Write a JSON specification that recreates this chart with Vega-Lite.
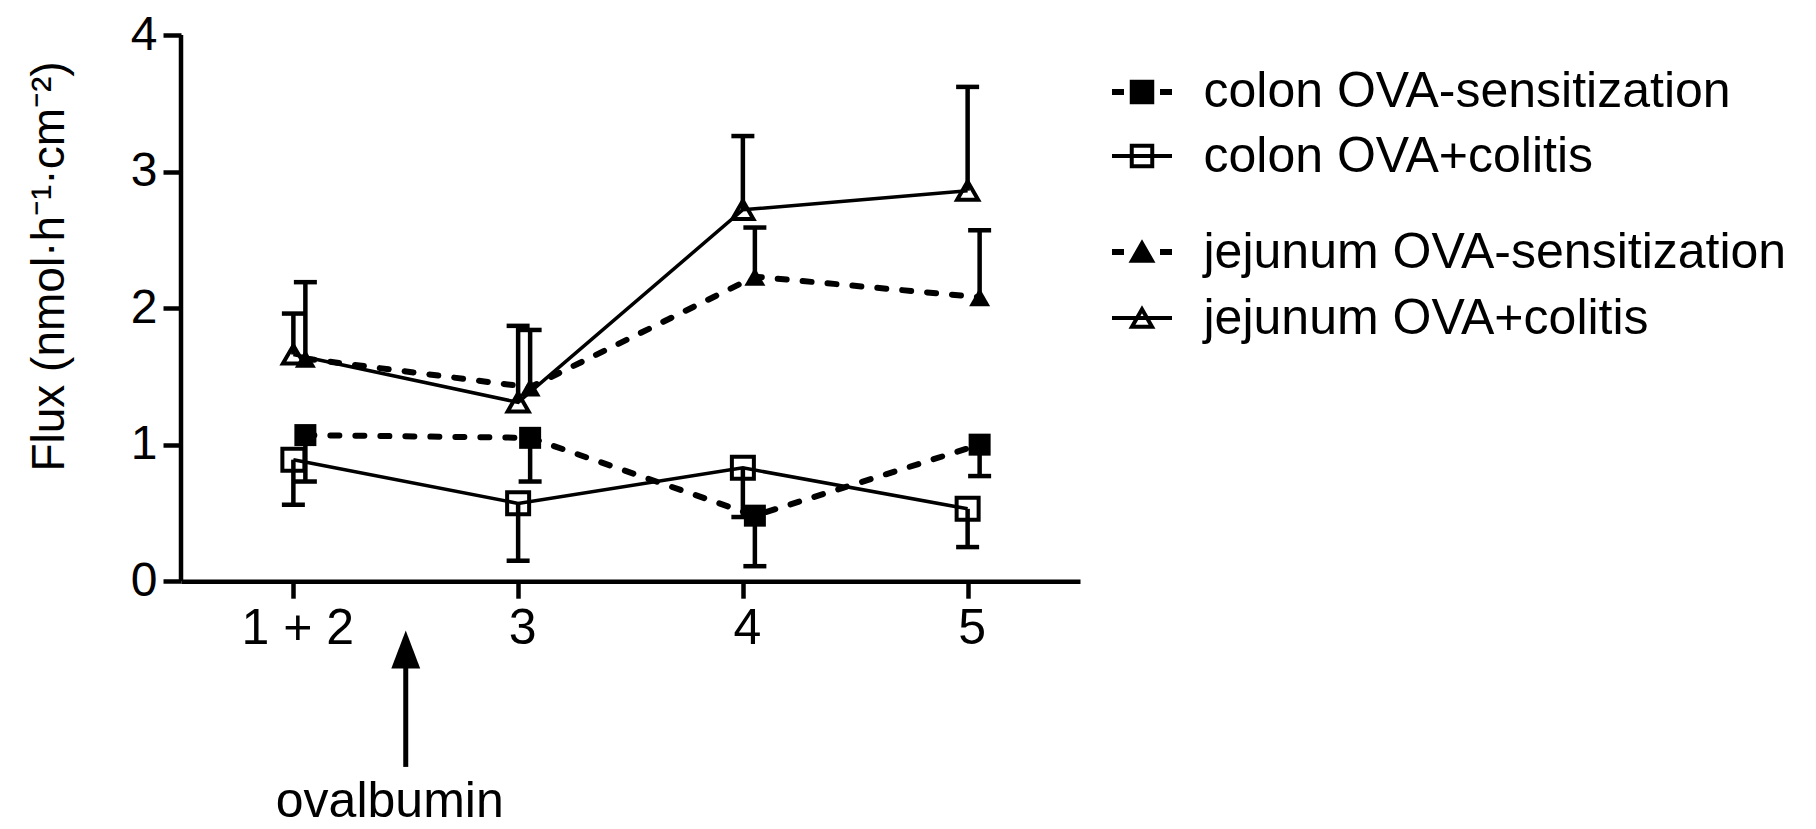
{
  "$schema": "https://vega.github.io/schema/vega-lite/v6.json",
  "padding": {"left": 26, "top": 11, "right": 5, "bottom": 0},
  "background": "white",
  "spacing": 29,
  "config": {
    "view": {"stroke": null},
    "font": "Liberation Sans",
    "axis": {
      "domainColor": "black", "tickColor": "black", "labelColor": "black", "titleColor": "black",
      "grid": false, "domainWidth": 4.5, "tickWidth": 4.5,
      "labelFont": "Liberation Sans", "titleFont": "Liberation Sans", "titleFontWeight": "normal"
    }
  },
  "datasets": {
    "flux": [
      {"period": 2, "tissue": "colon", "group": "OVA-sensitization", "mean": 1.07, "err": 0.73},
      {"period": 3, "tissue": "colon", "group": "OVA-sensitization", "mean": 1.05, "err": 0.73},
      {"period": 4, "tissue": "colon", "group": "OVA-sensitization", "mean": 0.48, "err": 0.11},
      {"period": 5, "tissue": "colon", "group": "OVA-sensitization", "mean": 1.00, "err": 0.77},
      {"period": 2, "tissue": "colon", "group": "OVA+colitis", "mean": 0.89, "err": 0.56},
      {"period": 3, "tissue": "colon", "group": "OVA+colitis", "mean": 0.57, "err": 0.15},
      {"period": 4, "tissue": "colon", "group": "OVA+colitis", "mean": 0.83, "err": 0.47},
      {"period": 5, "tissue": "colon", "group": "OVA+colitis", "mean": 0.53, "err": 0.25},
      {"period": 2, "tissue": "jejunum", "group": "OVA-sensitization", "mean": 1.63, "err": 2.19},
      {"period": 3, "tissue": "jejunum", "group": "OVA-sensitization", "mean": 1.42, "err": 1.84},
      {"period": 4, "tissue": "jejunum", "group": "OVA-sensitization", "mean": 2.23, "err": 2.59},
      {"period": 5, "tissue": "jejunum", "group": "OVA-sensitization", "mean": 2.08, "err": 2.57},
      {"period": 2, "tissue": "jejunum", "group": "OVA+colitis", "mean": 1.66, "err": 1.96},
      {"period": 3, "tissue": "jejunum", "group": "OVA+colitis", "mean": 1.31, "err": 1.87},
      {"period": 4, "tissue": "jejunum", "group": "OVA+colitis", "mean": 2.72, "err": 3.26},
      {"period": 5, "tissue": "jejunum", "group": "OVA+colitis", "mean": 2.86, "err": 3.62}
    ],
    "legend": [
      {"series": "colon OVA-sensitization", "tissue": "colon", "group": "OVA-sensitization"},
      {"series": "colon OVA+colitis", "tissue": "colon", "group": "OVA+colitis"},
      {"series": "jejunum OVA-sensitization", "tissue": "jejunum", "group": "OVA-sensitization"},
      {"series": "jejunum OVA+colitis", "tissue": "jejunum", "group": "OVA+colitis"}
    ]
  },
  "resolve": {"scale": {"shape": "independent", "size": "independent", "strokeDash": "independent", "strokeWidth": "independent", "fillOpacity": "independent", "x": "independent", "y": "independent"}},
  "hconcat": [
    {
      "width": 899,
      "height": 792,
      "data": {"name": "flux"},
      "encoding": {
        "x": {"field": "period", "type": "quantitative",
              "scale": {"domain": [1.5, 5.5], "nice": false, "zero": false},
              "axis": {"values": [2, 3, 4, 5], "labelExpr": "datum.value == 2 ? '1 + 2' : datum.label",
                       "title": null, "tickSize": 17, "labelPadding": 5, "labelFontSize": 50, "labelFlush": false,
                       "labelOffset": 4, "offset": -245.8}},
        "y": {"field": "mean", "type": "quantitative",
              "scale": {"domain": [-1.8, 4], "nice": false, "zero": false},
              "axis": {"values": [0, 1, 2, 3, 4], "domain": false, "title": "Flux (nmol·h⁻¹·cm⁻²)", "titleFontSize": 46,
                       "titlePadding": 57, "titleY": 231, "tickSize": 18, "labelPadding": 6, "labelFontSize": 48}}
      },
      "layer": [
        {
          "transform": [{"filter": "datum.period == 2 && datum.tissue == 'colon' && datum.group == 'OVA-sensitization'"}],
          "mark": {"type": "rule", "color": "black", "strokeWidth": 4.5},
          "encoding": {"x": {"datum": 1.5, "type": "quantitative"}, "y": {"datum": 0, "type": "quantitative"}, "y2": {"datum": 4}}
        },
        {
          "transform": [{"filter": "datum.group == 'OVA-sensitization'"}],
          "mark": {"type": "line", "color": "black", "strokeWidth": 6, "strokeDash": [9, 16], "strokeCap": "round", "xOffset": 12},
          "encoding": {"detail": {"field": "tissue"}}
        },
        {
          "transform": [{"filter": "datum.group == 'OVA+colitis'"}],
          "mark": {"type": "line", "color": "black", "strokeWidth": 3.5},
          "encoding": {"detail": {"field": "tissue"}}
        },
        {
          "transform": [{"filter": "datum.group == 'OVA-sensitization'"}],
          "mark": {"type": "rule", "color": "black", "strokeWidth": 4.5, "xOffset": 12},
          "encoding": {"y2": {"field": "err"}}
        },
        {
          "transform": [{"filter": "datum.group == 'OVA+colitis'"}],
          "mark": {"type": "rule", "color": "black", "strokeWidth": 4.5},
          "encoding": {"y2": {"field": "err"}}
        },
        {
          "transform": [{"filter": "datum.group == 'OVA-sensitization'"}],
          "mark": {"type": "tick", "orient": "horizontal", "color": "black", "size": 23, "thickness": 4.5, "opacity": 1, "xOffset": 12},
          "encoding": {"y": {"field": "err", "type": "quantitative"}}
        },
        {
          "transform": [{"filter": "datum.group == 'OVA+colitis'"}],
          "mark": {"type": "tick", "orient": "horizontal", "color": "black", "size": 23, "thickness": 4.5, "opacity": 1},
          "encoding": {"y": {"field": "err", "type": "quantitative"}}
        },
        {
          "transform": [{"filter": "datum.group == 'OVA-sensitization'"}],
          "mark": {"type": "point", "filled": true, "fill": "black", "strokeWidth": 0, "opacity": 1, "xOffset": 12},
          "encoding": {
            "shape": {"field": "tissue", "scale": {"domain": ["colon", "jejunum"], "range": ["square", "triangle-up"]}, "legend": null},
            "size": {"field": "tissue", "scale": {"domain": ["colon", "jejunum"], "range": [484, 441]}, "legend": null}
          }
        },
        {
          "transform": [{"filter": "datum.group == 'OVA+colitis'"}],
          "mark": {"type": "point", "filled": false, "stroke": "black", "strokeWidth": 4, "opacity": 1},
          "encoding": {
            "shape": {"field": "tissue", "scale": {"domain": ["colon", "jejunum"], "range": ["square", "triangle-up"]}, "legend": null},
            "size": {"field": "tissue", "scale": {"domain": ["colon", "jejunum"], "range": [361, 441]}, "legend": null}
          }
        },
        {
          "transform": [{"filter": "datum.period == 2 && datum.tissue == 'colon' && datum.group == 'OVA-sensitization'"}],
          "mark": {"type": "rule", "color": "black", "strokeWidth": 5},
          "encoding": {"x": {"datum": 2.5, "type": "quantitative"}, "y": {"datum": -0.6, "type": "quantitative"}, "y2": {"datum": -1.36}}
        },
        {
          "transform": [{"filter": "datum.period == 2 && datum.tissue == 'colon' && datum.group == 'OVA-sensitization'"}],
          "mark": {"type": "point", "shape": "M-0.76,1L0,-1L0.76,1Z", "filled": true, "fill": "black", "strokeWidth": 0, "size": 1444, "opacity": 1},
          "encoding": {"x": {"datum": 2.5, "type": "quantitative"}, "y": {"datum": -0.5, "type": "quantitative"}}
        },
        {
          "transform": [{"filter": "datum.period == 2 && datum.tissue == 'colon' && datum.group == 'OVA-sensitization'"}],
          "mark": {"type": "text", "text": "ovalbumin", "fontSize": 50, "font": "Liberation Sans", "baseline": "alphabetic", "align": "center", "dx": -16, "color": "black"},
          "encoding": {"x": {"datum": 2.5, "type": "quantitative"}, "y": {"datum": -1.73, "type": "quantitative"}}
        }
      ]
    },
    {
      "spacing": 6,
      "vconcat": [
        {
          "width": 60,
          "height": 178,
          "data": {"name": "legend"},
          "transform": [{"filter": "datum.tissue == 'colon'"}],
          "encoding": {
            "y": {"field": "series", "type": "nominal",
                  "scale": {"type": "point", "domain": ["colon OVA-sensitization", "colon OVA+colitis"], "padding": 0.89, "align": 0.5},
                  "axis": {"orient": "right", "domain": false, "ticks": false, "title": null, "labelFontSize": 50, "labelPadding": 31, "labelLimit": 0, "labelColor": "black"}}
          },
          "layer": [
            {
              "mark": {"type": "rule", "color": "black"},
              "encoding": {
                "x": {"datum": 0, "type": "quantitative", "scale": {"domain": [0, 1]}, "axis": null},
                "x2": {"datum": 1},
                "strokeDash": {"field": "group", "scale": {"domain": ["OVA-sensitization", "OVA+colitis"], "range": [[12, 36], [1, 0]]}, "legend": null},
                "strokeWidth": {"field": "group", "scale": {"domain": ["OVA-sensitization", "OVA+colitis"], "range": [6, 4]}, "legend": null}
              }
            },
            {
              "mark": {"type": "point", "shape": "square", "size": 420, "fill": "black", "stroke": "black", "strokeWidth": 4, "filled": true, "opacity": 1},
              "encoding": {
                "x": {"datum": 0.5, "type": "quantitative", "scale": {"domain": [0, 1]}, "axis": null},
                "fillOpacity": {"field": "group", "scale": {"domain": ["OVA-sensitization", "OVA+colitis"], "range": [1, 0]}, "legend": null}
              }
            }
          ]
        },
        {
          "width": 60,
          "height": 132,
          "data": {"name": "legend"},
          "transform": [{"filter": "datum.tissue == 'jejunum'"}],
          "encoding": {
            "y": {"field": "series", "type": "nominal",
                  "scale": {"type": "point", "domain": ["jejunum OVA-sensitization", "jejunum OVA+colitis"], "padding": 0.5},
                  "axis": {"orient": "right", "domain": false, "ticks": false, "title": null, "labelFontSize": 50, "labelPadding": 31, "labelLimit": 0, "labelColor": "black"}}
          },
          "layer": [
            {
              "mark": {"type": "rule", "color": "black"},
              "encoding": {
                "x": {"datum": 0, "type": "quantitative", "scale": {"domain": [0, 1]}, "axis": null},
                "x2": {"datum": 1},
                "strokeDash": {"field": "group", "scale": {"domain": ["OVA-sensitization", "OVA+colitis"], "range": [[12, 36], [1, 0]]}, "legend": null},
                "strokeWidth": {"field": "group", "scale": {"domain": ["OVA-sensitization", "OVA+colitis"], "range": [6, 4]}, "legend": null}
              }
            },
            {
              "mark": {"type": "point", "shape": "triangle-up", "size": 400, "fill": "black", "stroke": "black", "strokeWidth": 4, "filled": true, "opacity": 1},
              "encoding": {
                "x": {"datum": 0.5, "type": "quantitative", "scale": {"domain": [0, 1]}, "axis": null},
                "fillOpacity": {"field": "group", "scale": {"domain": ["OVA-sensitization", "OVA+colitis"], "range": [1, 0]}, "legend": null}
              }
            }
          ]
        }
      ]
    }
  ]
}
